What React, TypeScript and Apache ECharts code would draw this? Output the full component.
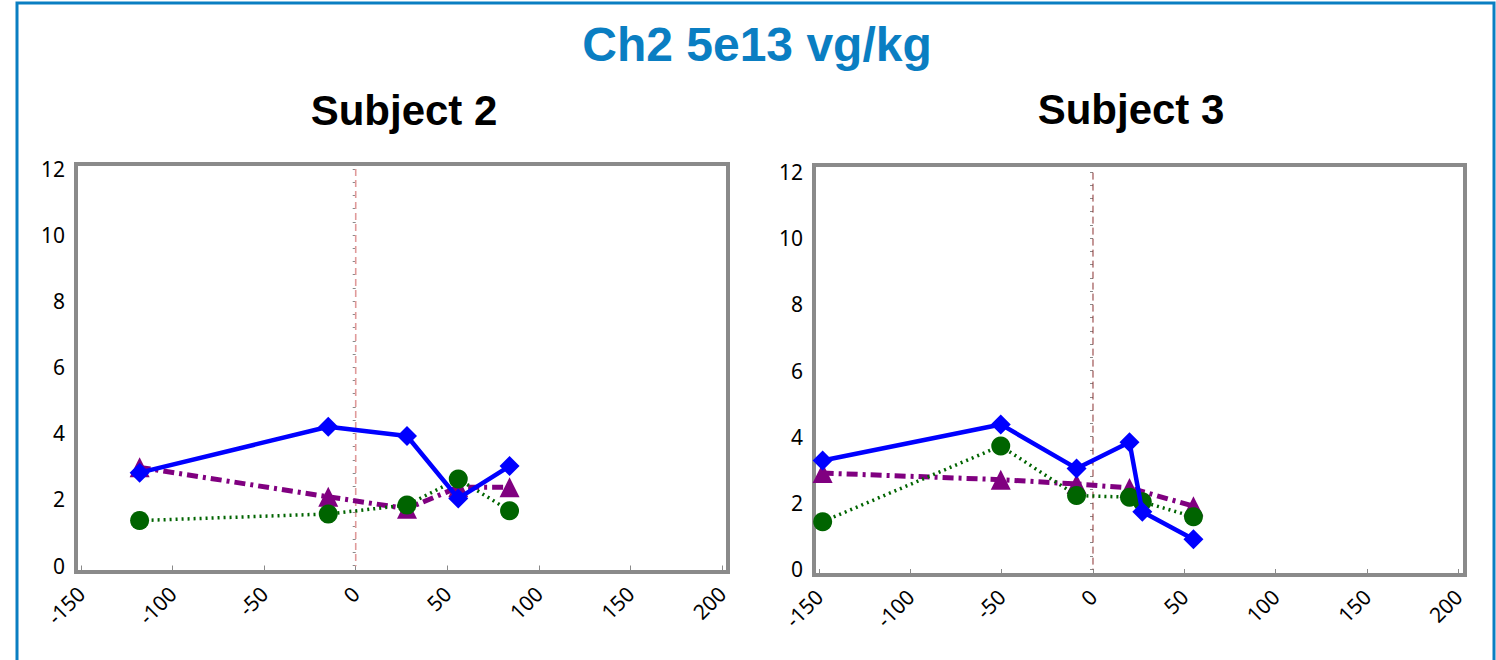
import React, { useEffect, useRef } from "react";
import * as echarts from "echarts";

const titleText = "Ch2 5e13 vg/kg";
const panelTitles = ["Subject 2", "Subject 3"];
const xTicks = [-150, -100, -50, 0, 50, 100, 150, 200];
const refLine: [number, number][] = [[0, -0.2], [0, 12.06]];

// Subject 2
const s2Blue: [number, number][] = [[-118, 2.81], [-15, 4.2], [28, 3.92], [56, 2.03], [84, 3.01]];
const s2Purple: [number, number][] = [[-118, 2.97], [-15, 2.08], [28, 1.72], [56, 2.37], [84, 2.37]];
const s2Green: [number, number][] = [[-118, 1.36], [-15, 1.56], [28, 1.83], [56, 2.62], [84, 1.66]];

// Subject 3
const s3Blue: [number, number][] = [[-148, 3.28], [-50.5, 4.37], [-9, 3.04], [20, 3.83], [27, 1.73], [55, 0.9]];
const s3Purple: [number, number][] = [[-148, 2.9], [-50.5, 2.7], [-9, 2.57], [20, 2.45], [55, 1.9]];
const s3Green: [number, number][] = [[-148, 1.43], [-50.5, 3.72], [-9, 2.22], [20, 2.17], [27, 2.03], [55, 1.58]];

const BLUE = "#0000ff";
const PURPLE = "#800080";
const GREEN = "#006400";
const FRAME = "#8a8a8a";
const TITLE_BLUE = "#0a7ec2";

export default function App() {
  const ref = useRef<HTMLDivElement>(null);
  useEffect(() => {
    document.body.style.margin = "0";
    const chart = echarts.init(ref.current!, null, { renderer: "svg" });

    const tickFont = { fontFamily: "Noto Sans", fontSize: 21, color: "#000" };

    const mkX = (gridIndex: number, offset: number) => ({
      type: "value",
      gridIndex,
      min: -150,
      max: 200,
      interval: 50,
      offset,
      axisLine: { show: false },
      axisTick: { show: true, length: 6, lineStyle: { color: FRAME, width: 1 } },
      splitLine: { show: false },
      axisLabel: { ...tickFont, rotate: 45, margin: 16, customValues: xTicks },
    });
    const mkY = (gridIndex: number) => ({
      type: "value",
      gridIndex,
      min: 0,
      max: 12,
      interval: 2,
      offset: 7,
      axisLine: { show: false },
      axisTick: { show: true, length: 3, lineStyle: { color: FRAME, width: 1 } },
      minorTick: { show: true, splitNumber: 5, length: 3, lineStyle: { color: FRAME, width: 1 } },
      splitLine: { show: false },
      minorSplitLine: { show: false },
      axisLabel: { ...tickFont, margin: 9 },
    });

    const mkSeries = (gi: number, purple: any, green: any, blue: any, refColor: string, refWidth: number) => [
      {
        type: "line",
        xAxisIndex: gi,
        yAxisIndex: gi,
        data: refLine,
        symbol: "none",
        silent: true,
        lineStyle: { color: refColor, width: refWidth, type: [7, 4] },
        z: 1,
      },
      {
        type: "line",
        xAxisIndex: gi,
        yAxisIndex: gi,
        data: purple,
        symbol: "triangle",
        symbolSize: 20,
        itemStyle: { color: PURPLE },
        lineStyle: { color: PURPLE, width: 5, type: [11, 5, 3, 5] },
        z: 2,
      },
      {
        type: "line",
        xAxisIndex: gi,
        yAxisIndex: gi,
        data: green,
        symbol: "circle",
        symbolSize: 19,
        itemStyle: { color: GREEN },
        lineStyle: { color: GREEN, width: 3.5, type: [2, 4] },
        z: 3,
      },
      {
        type: "line",
        xAxisIndex: gi,
        yAxisIndex: gi,
        data: blue,
        symbol: "diamond",
        symbolSize: 20,
        itemStyle: { color: BLUE },
        lineStyle: { color: BLUE, width: 4.5 },
        z: 4,
      },
    ];

    chart.setOption({
      animation: false,
      grid: [
        { left: 81, width: 641, top: 169, height: 396.5 },
        { left: 819, width: 639.3, top: 172, height: 397 },
      ],
      xAxis: [mkX(0, 8.5), mkX(1, 8)],
      yAxis: [mkY(0), mkY(1)],
      graphic: [
        {
          type: "rect",
          shape: { x: 17, y: 3, width: 1477, height: 720 },
          style: { fill: "none", stroke: TITLE_BLUE, lineWidth: 3 },
          silent: true,
        },
        {
          type: "rect",
          shape: { x: 76, y: 164, width: 652, height: 408 },
          style: { fill: "none", stroke: FRAME, lineWidth: 4 },
          silent: true,
          z: 0,
        },
        {
          type: "rect",
          shape: { x: 814, y: 165, width: 651, height: 410 },
          style: { fill: "none", stroke: FRAME, lineWidth: 4 },
          silent: true,
          z: 0,
        },
        {
          type: "text",
          x: 757,
          y: 44,
          style: {
            text: titleText,
            fontFamily: "Liberation Sans",
            fontWeight: "bold",
            fontSize: 48,
            fill: TITLE_BLUE,
            textAlign: "center",
            textVerticalAlign: "middle",
          },
        },
        {
          type: "text",
          x: 404,
          y: 110,
          style: {
            text: panelTitles[0],
            fontFamily: "Liberation Sans",
            fontWeight: "bold",
            fontSize: 42,
            fill: "#000",
            textAlign: "center",
            textVerticalAlign: "middle",
          },
        },
        {
          type: "text",
          x: 1131,
          y: 109,
          style: {
            text: panelTitles[1],
            fontFamily: "Liberation Sans",
            fontWeight: "bold",
            fontSize: 42,
            fill: "#000",
            textAlign: "center",
            textVerticalAlign: "middle",
          },
        },
      ],
      series: [
        ...mkSeries(0, s2Purple, s2Green, s2Blue, "#e09a9a", 1.6),
        ...mkSeries(1, s3Purple, s3Green, s3Blue, "#8a3030", 1),
      ],
    });
    return () => chart.dispose();
  }, []);
  return <div ref={ref} style={{ width: 1496, height: 660 }} />;
}
